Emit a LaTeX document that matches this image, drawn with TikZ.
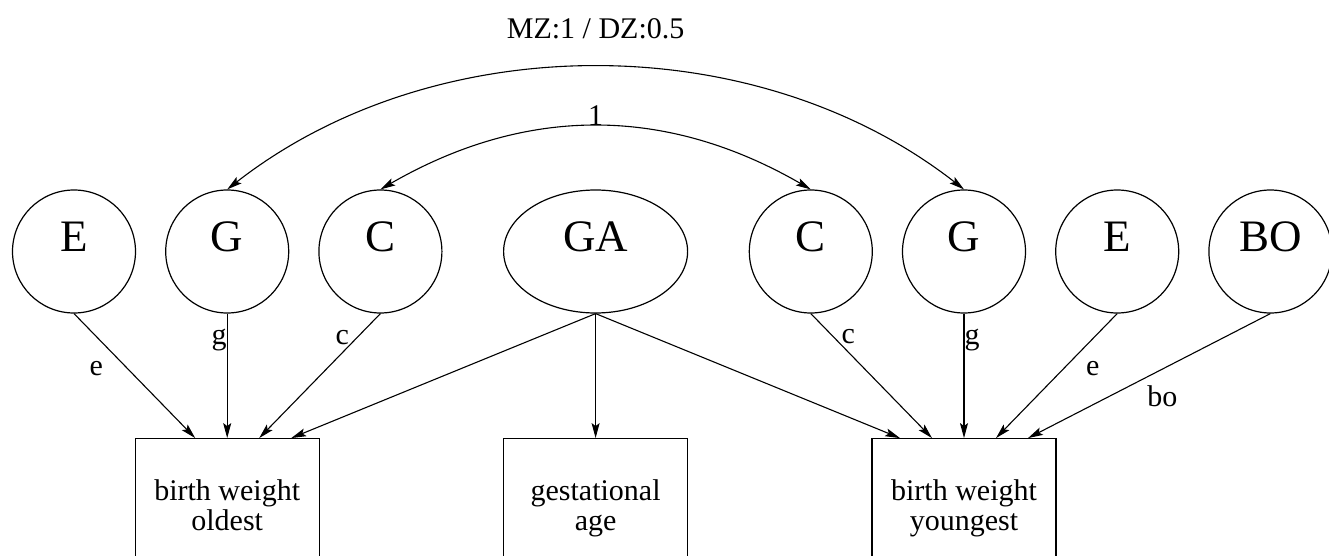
\documentclass[tikz,border=0pt]{standalone}
\usepackage{fontspec}
\setmainfont{Liberation Serif}
\usetikzlibrary{positioning, arrows.meta, shapes.geometric}
\newcommand{\bigtext}{\fontsize{45}{50}\selectfont}
\newcommand{\smalltext}{\fontsize{30}{29.5}\selectfont}
\newcommand{\pathtip}{Stealth[length=15pt,width=8pt,inset=3pt]}
\newcommand{\patharrow}{-{\pathtip}}
\newcommand{\corrarrow}{{\pathtip}-{\pathtip}}
\newcommand{\boxlength}{124.5pt}

\tikzset{
        latent/.style={circle, draw, line width=1.2pt, minimum size=123pt,
                inner sep=0pt, font=\bigtext, text height=0pt, text depth=0pt},
        latentwide/.style={latent, ellipse, minimum width=184pt, minimum height=123pt},
        observed/.style={rectangle, draw, line width=1.2pt, minimum width=184pt,
                minimum height=183pt, align=center, font=\smalltext,
                text height=0pt, text depth=0pt},
        coef/.style={font=\smalltext, inner sep=0pt}
}

\begin{document}
\begin{tikzpicture}[x=1pt, y=1pt, node distance=29pt, line width=1.1pt]
        \useasboundingbox (0,0) rectangle (1329,555);
        \clip (0,0) rectangle (1329,555);
        % latent variables
        \node[latent] (e1) at (74,303.5) {E};
        \node[latent, right=of e1] (g1) {G};
        \node[latent, right=of g1] (c1) {C};
        \node[latentwide, right=60.5pt of c1] (ga) {GA};
        \node[latent, right=60.5pt of ga] (c2) {C};
        \node[latent, right=of c2] (g2) {G};
        \node[latent, right=of g2] (e2) {E};
        \node[latent, right=of e2] (bo) {BO};
        % measured variables
        \node[observed, below=\boxlength of g1] (bwo) {birth weight\\oldest};
        \node[observed, below=\boxlength of ga] (gest) {gestational\\age};
        \node[observed, below=\boxlength of g2] (bwy) {birth weight\\youngest};
        % correlations
        \draw[\corrarrow] (g1.north) to[out=38, in=142, looseness=0.92]
        node[coef, above=28pt] (mzdz) {MZ:1 / DZ:0.5} (g2.north);
        \draw[\corrarrow] (c1.north) to[out=30, in=150]
        node[coef, above] (one) {1} (c2.north);
        % paths
        \draw[\patharrow] (e1.south) -- ([xshift=-32pt]bwo.north)
        node[coef, pos=0.44, xshift=-31pt] (le1) {e};
        \draw[\patharrow] (g1.south) -- (bwo.north)
        node[coef, pos=0.21, xshift=-8pt] (lg1) {g};
        \draw[\patharrow] (c1.south) -- ([xshift=32pt]bwo.north)
        node[coef, pos=0.19, xshift=-15pt] (lc1) {c};
        \draw[\patharrow] (ga.south) -- ([xshift=64pt]bwo.north);
        \draw[\patharrow] (ga.south) -- (gest.north);
        \draw[\patharrow] (ga.south) -- ([xshift=-64pt]bwy.north);
        \draw[\patharrow] (c2.south) -- ([xshift=-32pt]bwy.north)
        node[coef, pos=0.185, xshift=15pt] (lc2) {c};
        \draw[\patharrow] (g2.south) -- (bwy.north)
        node[coef, pos=0.21, xshift=8pt] (lg2) {g};
        \draw[\patharrow] (e2.south) -- ([xshift=32pt]bwy.north)
        node[coef, pos=0.44, xshift=29pt] (le2) {e};
        \draw[\patharrow] (bo.south) -- ([xshift=64pt]bwy.north)
        node[coef, pos=0.66, xshift=52pt] (lbo) {bo};
\end{tikzpicture}
\end{document}
